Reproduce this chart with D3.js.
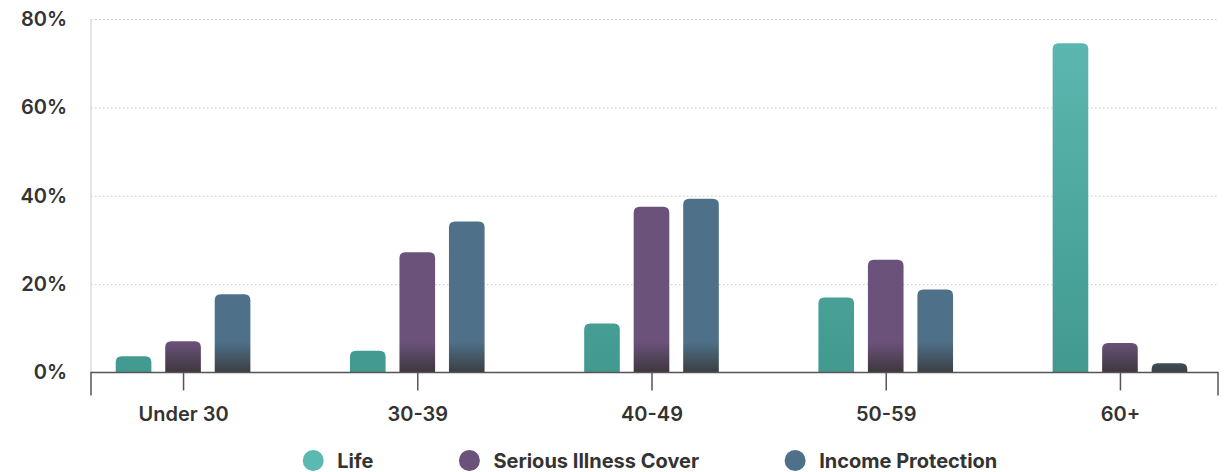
<!DOCTYPE html>
<html>
<head>
<meta charset="utf-8">
<script src="https://cdn.jsdelivr.net/npm/d3@7"></script>
<style>
  body { margin: 0; background: #fff; }
  svg text { font-family: Inter, Lato, "Open Sans", sans-serif; }
</style>
</head>
<body>
<div id="wrapper"></div>
<script>

// data
const ageGroups = ["Under 30", "30-39", "40-49", "50-59", "60+"]
const seriesNames = ["Life", "Serious Illness Cover", "Income Protection"]
const lifeValues = [3.7, 4.9, 11.1, 17.0, 74.5]
const seriousIllnessValues = [7.1, 27.2, 37.5, 25.5, 6.7]
const incomeProtectionValues = [17.7, 34.2, 39.3, 18.8, 2.1]
const yTicks = [0, 20, 40, 60, 80]

const seriesValues = [lifeValues, seriousIllnessValues, incomeProtectionValues]
const colors = {
    "Life": ["#5cb9b2", "#42998f"],
    "Serious Illness Cover": ["#6b527b", "#3e373d"],
    "Income Protection": ["#4e7189", "#3b3e42"],
}

function drawChart() {
    let dimensions = {
        width: 1225,
        height: 472,
        margin: { top: 19, right: 7, bottom: 99.5, left: 91 },
    }
    dimensions.boundedWidth = dimensions.width - dimensions.margin.left - dimensions.margin.right
    dimensions.boundedHeight = dimensions.height - dimensions.margin.top - dimensions.margin.bottom

    const wrapper = d3.select("#wrapper")
        .append("svg")
        .attr("width", dimensions.width)
        .attr("height", dimensions.height)

    const defs = wrapper.append("defs")

    const bounds = wrapper.append("g")
        .attr("transform", `translate(${dimensions.margin.left}, ${dimensions.margin.top})`)

    // scales
    const yScale = d3.scaleLinear()
        .domain([0, 80])
        .range([dimensions.boundedHeight, 0])

    // groups are not quite centred on the axis line in the original
    const xScale = d3.scalePoint()
        .domain(ageGroups)
        .range([0, dimensions.boundedWidth - 6])
        .padding(0.393)

    const innerScale = d3.scaleBand()
        .domain(seriesNames)
        .range([-74.25, 74.25])
        .paddingInner(0.28)
        .paddingOuter(0.14)

    // gradients (user space so the bottom shading is the same for every bar)
    seriesNames.forEach((name, i) => {
        const g = defs.append("linearGradient")
            .attr("id", "grad" + i)
            .attr("gradientUnits", "userSpaceOnUse")
            .attr("x1", 0).attr("x2", 0)
        if (name == "Life") {
            g.attr("y1", 0).attr("y2", dimensions.boundedHeight)
            g.append("stop").attr("offset", 0).attr("stop-color", colors[name][0])
        } else {
            g.attr("y1", dimensions.boundedHeight - 44).attr("y2", dimensions.boundedHeight)
            g.append("stop").attr("offset", 0).attr("stop-color", colors[name][0])
            g.append("stop").attr("offset", 0.3).attr("stop-color", colors[name][0])
        }
        g.append("stop").attr("offset", 1).attr("stop-color", colors[name][1])
    })

    // grid lines
    bounds.append("g")
        .attr("class", "grid")
        .call(d3.axisLeft(yScale).tickValues(yTicks.slice(1)).tickSize(-dimensions.boundedWidth).tickFormat(""))
        .call(g => g.select(".domain").remove())
        .call(g => g.selectAll("line")
            .attr("stroke", "#c8c8c8")
            .attr("stroke-dasharray", "1.5,2.5"))

    // left vertical line
    bounds.append("line")
        .attr("x1", 0).attr("x2", 0)
        .attr("y1", 0).attr("y2", dimensions.boundedHeight)
        .attr("stroke", "#dcdcdc")
        .attr("stroke-width", 1.5)

    // y axis labels
    bounds.append("g")
        .call(d3.axisLeft(yScale).tickValues(yTicks).tickSize(0).tickPadding(24).tickFormat(d => d + "%"))
        .call(g => g.select(".domain").remove())
        .call(g => g.selectAll("text")
            .attr("fill", "#333")
            .attr("font-size", 20)
            .attr("font-weight", 600))

    // bars
    function barPath(x, y, w, h, r) {
        r = Math.min(r, h, w / 2)
        return `M${x},${y + h}V${y + r}Q${x},${y} ${x + r},${y}H${x + w - r}Q${x + w},${y} ${x + w},${y + r}V${y + h}Z`
    }

    const barData = []
    ageGroups.forEach((group, gi) => {
        seriesNames.forEach((name, si) => {
            barData.push({ group: group, series: name, si: si, value: seriesValues[si][gi] })
        })
    })

    bounds.append("g")
        .attr("class", "bars")
        .selectAll("path")
        .data(barData)
        .enter()
        .append("path")
        .attr("d", d => barPath(
            xScale(d.group) + innerScale(d.series),
            yScale(d.value),
            innerScale.bandwidth(),
            yScale(0) - yScale(d.value),
            6))
        .attr("fill", d => "url(#grad" + d.si + ")")

    // x axis
    const xAxis = bounds.append("g")
        .attr("transform", `translate(0, ${dimensions.boundedHeight})`)
        .call(d3.axisBottom(xScale).tickSizeInner(18).tickSizeOuter(0).tickPadding(16))
    xAxis.select(".domain")
        .attr("d", `M0,23V0H${dimensions.boundedWidth}V23`)
        .attr("stroke", "#555").attr("stroke-width", 1.5)
    xAxis.selectAll("line").attr("stroke", "#555").attr("stroke-width", 1.5)
    xAxis.selectAll("text")
        .attr("fill", "#333")
        .attr("font-size", 20)
        .attr("font-weight", 600)

    // legend
    const legend = wrapper.append("g").attr("class", "legend")
    const items = legend.selectAll("g")
        .data(seriesNames)
        .enter()
        .append("g")
    items.append("circle")
        .attr("r", 10.5)
        .attr("cy", 460.5)
        .attr("fill", (d, i) => colors[d][0])
    items.append("text")
        .attr("x", 24)
        .attr("y", 460.5)
        .attr("dy", "0.36em")
        .attr("font-size", 20)
        .attr("font-weight", 700)
        .attr("fill", "#333")
        .text(d => d)

    let x = 0
    const gap = 96
    items.each(function () {
        const w = this.querySelector("text").getComputedTextLength()
        d3.select(this).attr("data-x", x)
        x += 24 + w + gap
    })
    const total = x - gap + 10.5
    const start = dimensions.margin.left + dimensions.boundedWidth / 2 - total / 2 + 6
    items.attr("transform", function () {
        return `translate(${start + +this.getAttribute("data-x")}, 0)`
    })
}
drawChart()

</script>
</body>
</html>
